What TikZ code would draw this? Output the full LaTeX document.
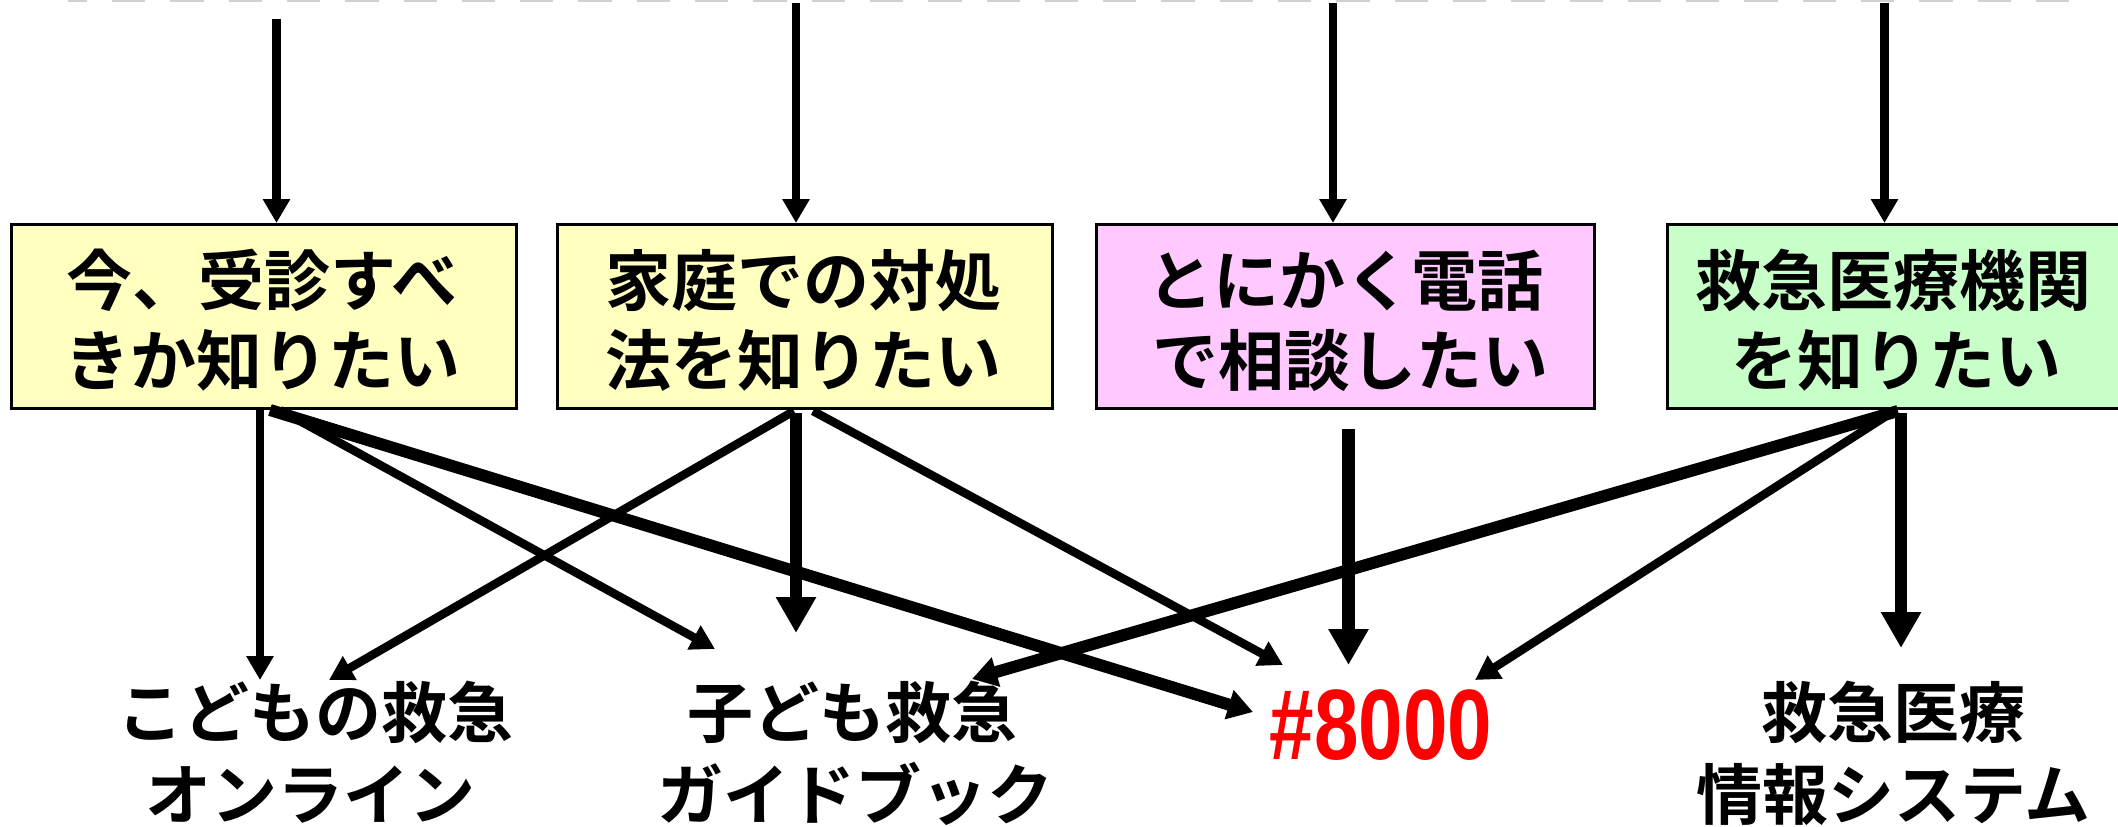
\documentclass[tikz,border=0pt]{standalone}
\usepackage{fontspec}
\usepackage{graphicx}
\usetikzlibrary{arrows.meta}
\newfontfamily\jp{Noto Sans CJK JP Bold}
\newfontfamily\lat{Liberation Sans Bold}
\definecolor{byel}{HTML}{FFFFC0}
\definecolor{bpink}{HTML}{FFC8FF}
\definecolor{bgreen}{HTML}{C8FFC8}
\definecolor{dashgray}{HTML}{D0D0D0}
\definecolor{numred}{HTML}{FF0000}
\begin{document}
\begin{tikzpicture}[x=1pt,y=-1pt,
  box/.style={draw=black,line width=2.5pt,inner sep=0pt,anchor=north west,minimum height=184pt},
  jt/.style={font=\jp\fontsize{66}{66}\selectfont,inner sep=0pt,anchor=base},
  thinarr/.style={line width=8.5pt,-{Triangle[length=24pt,width=26pt]}},
  thickarr/.style={line width=12pt,-{Triangle[length=25pt,width=29pt]}},
  bigarr/.style={line width=12.5pt,-{Triangle[length=36pt,width=38pt]}}]
\useasboundingbox (0,0) rectangle (2118,827);
\fill[white] (0,0) rectangle (2118,827);
% top dashed line
\coordinate (dl) at (68,0);
\coordinate (dr) at (2072,0);
\draw[dashgray,line width=3pt,dash pattern=on 33.3pt off 25pt,dash phase=14.3pt] (dl) -- (dr);
% boxes
\node[box,fill=byel,minimum width=505pt] (b1) at (10,223) {};
\node[box,fill=byel,minimum width=495pt] (b2) at (556,223) {};
\node[box,fill=bpink,minimum width=498pt] (b3) at (1095,223) {};
\node[box,fill=bgreen,minimum width=456pt] (b4) at (1666,223) {};
% box texts
\node[jt] (b1a) at (262,305) {今、受診すべ};
\node[jt] (b1b) at (262,385) {きか知りたい};
\node[jt] (b2a) at (803,305) {家庭での対処};
\node[jt] (b2b) at (803,385) {法を知りたい};
\node[jt] (b3a) at (1345,305) {とにかく電話};
\node[jt] (b3b) at (1350,385) {で相談したい};
\node[jt] (b4a) at (1893,305) {救急医療機関};
\node[jt] (b4b) at (1896,385) {を知りたい};
% bottom labels
\node[jt] (o1a) at (315,737) {こどもの救急};
\node[jt] (o1b) at (310,819) {オンライン};
\node[jt] (o2a) at (852,737) {子ども救急};
\node[jt] (o2b) at (855,819) {ガイドブック};
\node[inner sep=0pt,anchor=base,text=numred,font=\lat\fontsize{100}{100}\selectfont] (o3) at (1381,759) {\scalebox{0.8}[1]{\#8000}};
\node[jt] (o4a) at (1893,737) {救急医療};
\node[jt] (o4b) at (1893,819) {情報システム};
% top arrows
\coordinate (t1) at (276.5,19);
\coordinate (t2) at (796,3);
\coordinate (t3) at (1333,3);
\coordinate (t4) at (1884.5,3);
\draw[thinarr] (t1) -- (t1 |- b1.north);
\draw[thinarr] (t2) -- (t2 |- b2.north);
\draw[thinarr] (t3) -- (t3 |- b3.north);
\draw[thinarr] (t4) -- (t4 |- b4.north);
% start points under boxes
\coordinate (s1a) at (260,410);
\coordinate (s1b) at (280,410);
\coordinate (s1c) at (270,410);
\coordinate (s2a) at (794,411);
\coordinate (s2b) at (796,413);
\coordinate (s2c) at (813,411);
\coordinate (s3) at (1348.5,429);
\coordinate (s4a) at (1898,411);
\coordinate (s4b) at (1894,411);
\coordinate (s4c) at (1901,413);
% tips
\coordinate (e1a) at (260,680);
\coordinate (e1b) at (715,649);
\coordinate (e1c) at (1253,712);
\coordinate (e2a) at (329,680);
\coordinate (e2b) at (796,633);
\coordinate (e2c) at (1283,665);
\coordinate (e3) at (1348.5,665);
\coordinate (e4a) at (972,679);
\coordinate (e4b) at (1475,680);
\coordinate (e4c) at (1901,648);
% connectors
\draw[thinarr] (s1a) -- (e1a);
\draw[thinarr] (s1b) -- (e1b);
\draw[thickarr] (s1c) -- (e1c);
\draw[thinarr] (s2a) -- (e2a);
\draw[bigarr] (s2b) -- (e2b);
\draw[thinarr] (s2c) -- (e2c);
\draw[bigarr] (s3) -- (e3);
\draw[thickarr] (s4a) -- (e4a);
\draw[thinarr] (s4b) -- (e4b);
\draw[bigarr] (s4c) -- (e4c);
\end{tikzpicture}
\end{document}
